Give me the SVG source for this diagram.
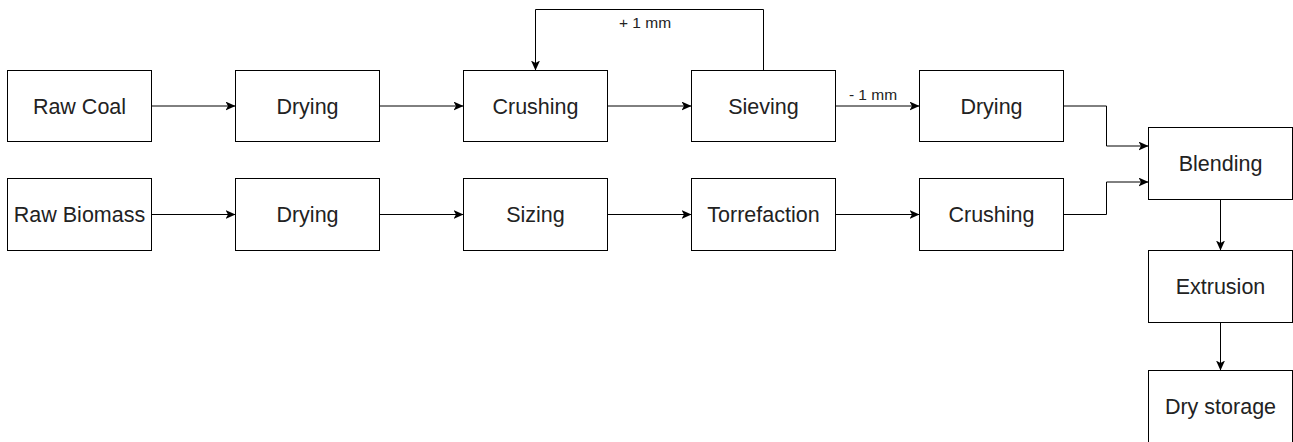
<svg xmlns="http://www.w3.org/2000/svg" width="1293" height="442" viewBox="0 0 1293 442">
  <style>
    .box { fill: #ffffff; stroke: #000000; stroke-width: 1; }
    .lbl { font-family: "Liberation Sans", Arial, sans-serif; font-size: 21.5px; fill: #222222; text-anchor: middle; }
    .edge { fill: none; stroke: #000000; stroke-width: 1; }
    .elbl { font-family: "Liberation Sans", Arial, sans-serif; font-size: 15.5px; fill: #222222; text-anchor: middle; }
  </style>
  <defs>
    <marker id="arrow" markerUnits="userSpaceOnUse" markerWidth="12" markerHeight="10" refX="10" refY="4.5" orient="auto">
      <path d="M0,0 L10,4.5 L0,9 L2.5,4.5 Z" fill="#000000"/>
    </marker>
  </defs>
  <rect width="1293" height="442" fill="#ffffff"/>

  <!-- coal line -->
  <g id="raw-coal"><rect class="box" x="7.5" y="70.5" width="144" height="71"/><text class="lbl" x="79.5" y="113.5">Raw Coal</text></g>
  <g id="coal-drying"><rect class="box" x="235.5" y="70.5" width="144" height="71"/><text class="lbl" x="307.5" y="113.5">Drying</text></g>
  <g id="coal-crushing"><rect class="box" x="463.5" y="70.5" width="144" height="71"/><text class="lbl" x="535.5" y="113.5">Crushing</text></g>
  <g id="sieving"><rect class="box" x="691.5" y="70.5" width="144" height="71"/><text class="lbl" x="763.5" y="113.5">Sieving</text></g>
  <g id="fine-drying"><rect class="box" x="919.5" y="70.5" width="144" height="71"/><text class="lbl" x="991.5" y="113.5">Drying</text></g>

  <!-- biomass line -->
  <g id="raw-biomass"><rect class="box" x="7.5" y="178.5" width="144" height="72"/><text class="lbl" x="79.5" y="222">Raw Biomass</text></g>
  <g id="biomass-drying"><rect class="box" x="235.5" y="178.5" width="144" height="72"/><text class="lbl" x="307.5" y="222">Drying</text></g>
  <g id="sizing"><rect class="box" x="463.5" y="178.5" width="144" height="72"/><text class="lbl" x="535.5" y="222">Sizing</text></g>
  <g id="torrefaction"><rect class="box" x="691.5" y="178.5" width="144" height="72"/><text class="lbl" x="763.5" y="222">Torrefaction</text></g>
  <g id="biomass-crushing"><rect class="box" x="919.5" y="178.5" width="144" height="72"/><text class="lbl" x="991.5" y="222">Crushing</text></g>

  <!-- common line -->
  <g id="blending"><rect class="box" x="1148.5" y="127.5" width="144" height="72"/><text class="lbl" x="1220.5" y="171">Blending</text></g>
  <g id="extrusion"><rect class="box" x="1148.5" y="250.5" width="144" height="72"/><text class="lbl" x="1220.5" y="294">Extrusion</text></g>
  <g id="dry-storage"><rect class="box" x="1148.5" y="370.5" width="144" height="72"/><text class="lbl" x="1220.5" y="414">Dry storage</text></g>

  <g id="connectors">
    <path class="edge" marker-end="url(#arrow)" d="M151.5,106 H235.5"/>
    <path class="edge" marker-end="url(#arrow)" d="M379.5,106 H463.5"/>
    <path class="edge" marker-end="url(#arrow)" d="M607.5,106 H691.5"/>
    <path class="edge" marker-end="url(#arrow)" d="M835.5,106 H919.5"/>
    <text class="elbl" x="873" y="100">- 1 mm</text>
    <path class="edge" marker-end="url(#arrow)" d="M763.5,70.5 V9.5 H535.5 V70.5"/>
    <text class="elbl" x="645" y="28">+ 1 mm</text>
    <path class="edge" marker-end="url(#arrow)" d="M1063.5,106 H1106.5 V146 H1148.5"/>

    <path class="edge" marker-end="url(#arrow)" d="M151.5,214.5 H235.5"/>
    <path class="edge" marker-end="url(#arrow)" d="M379.5,214.5 H463.5"/>
    <path class="edge" marker-end="url(#arrow)" d="M607.5,214.5 H691.5"/>
    <path class="edge" marker-end="url(#arrow)" d="M835.5,214.5 H919.5"/>
    <path class="edge" marker-end="url(#arrow)" d="M1063.5,214.5 H1106.5 V182 H1148.5"/>

    <path class="edge" marker-end="url(#arrow)" d="M1220.5,199.5 V250.5"/>
    <path class="edge" marker-end="url(#arrow)" d="M1220.5,322.5 V370.5"/>
  </g>
</svg>
